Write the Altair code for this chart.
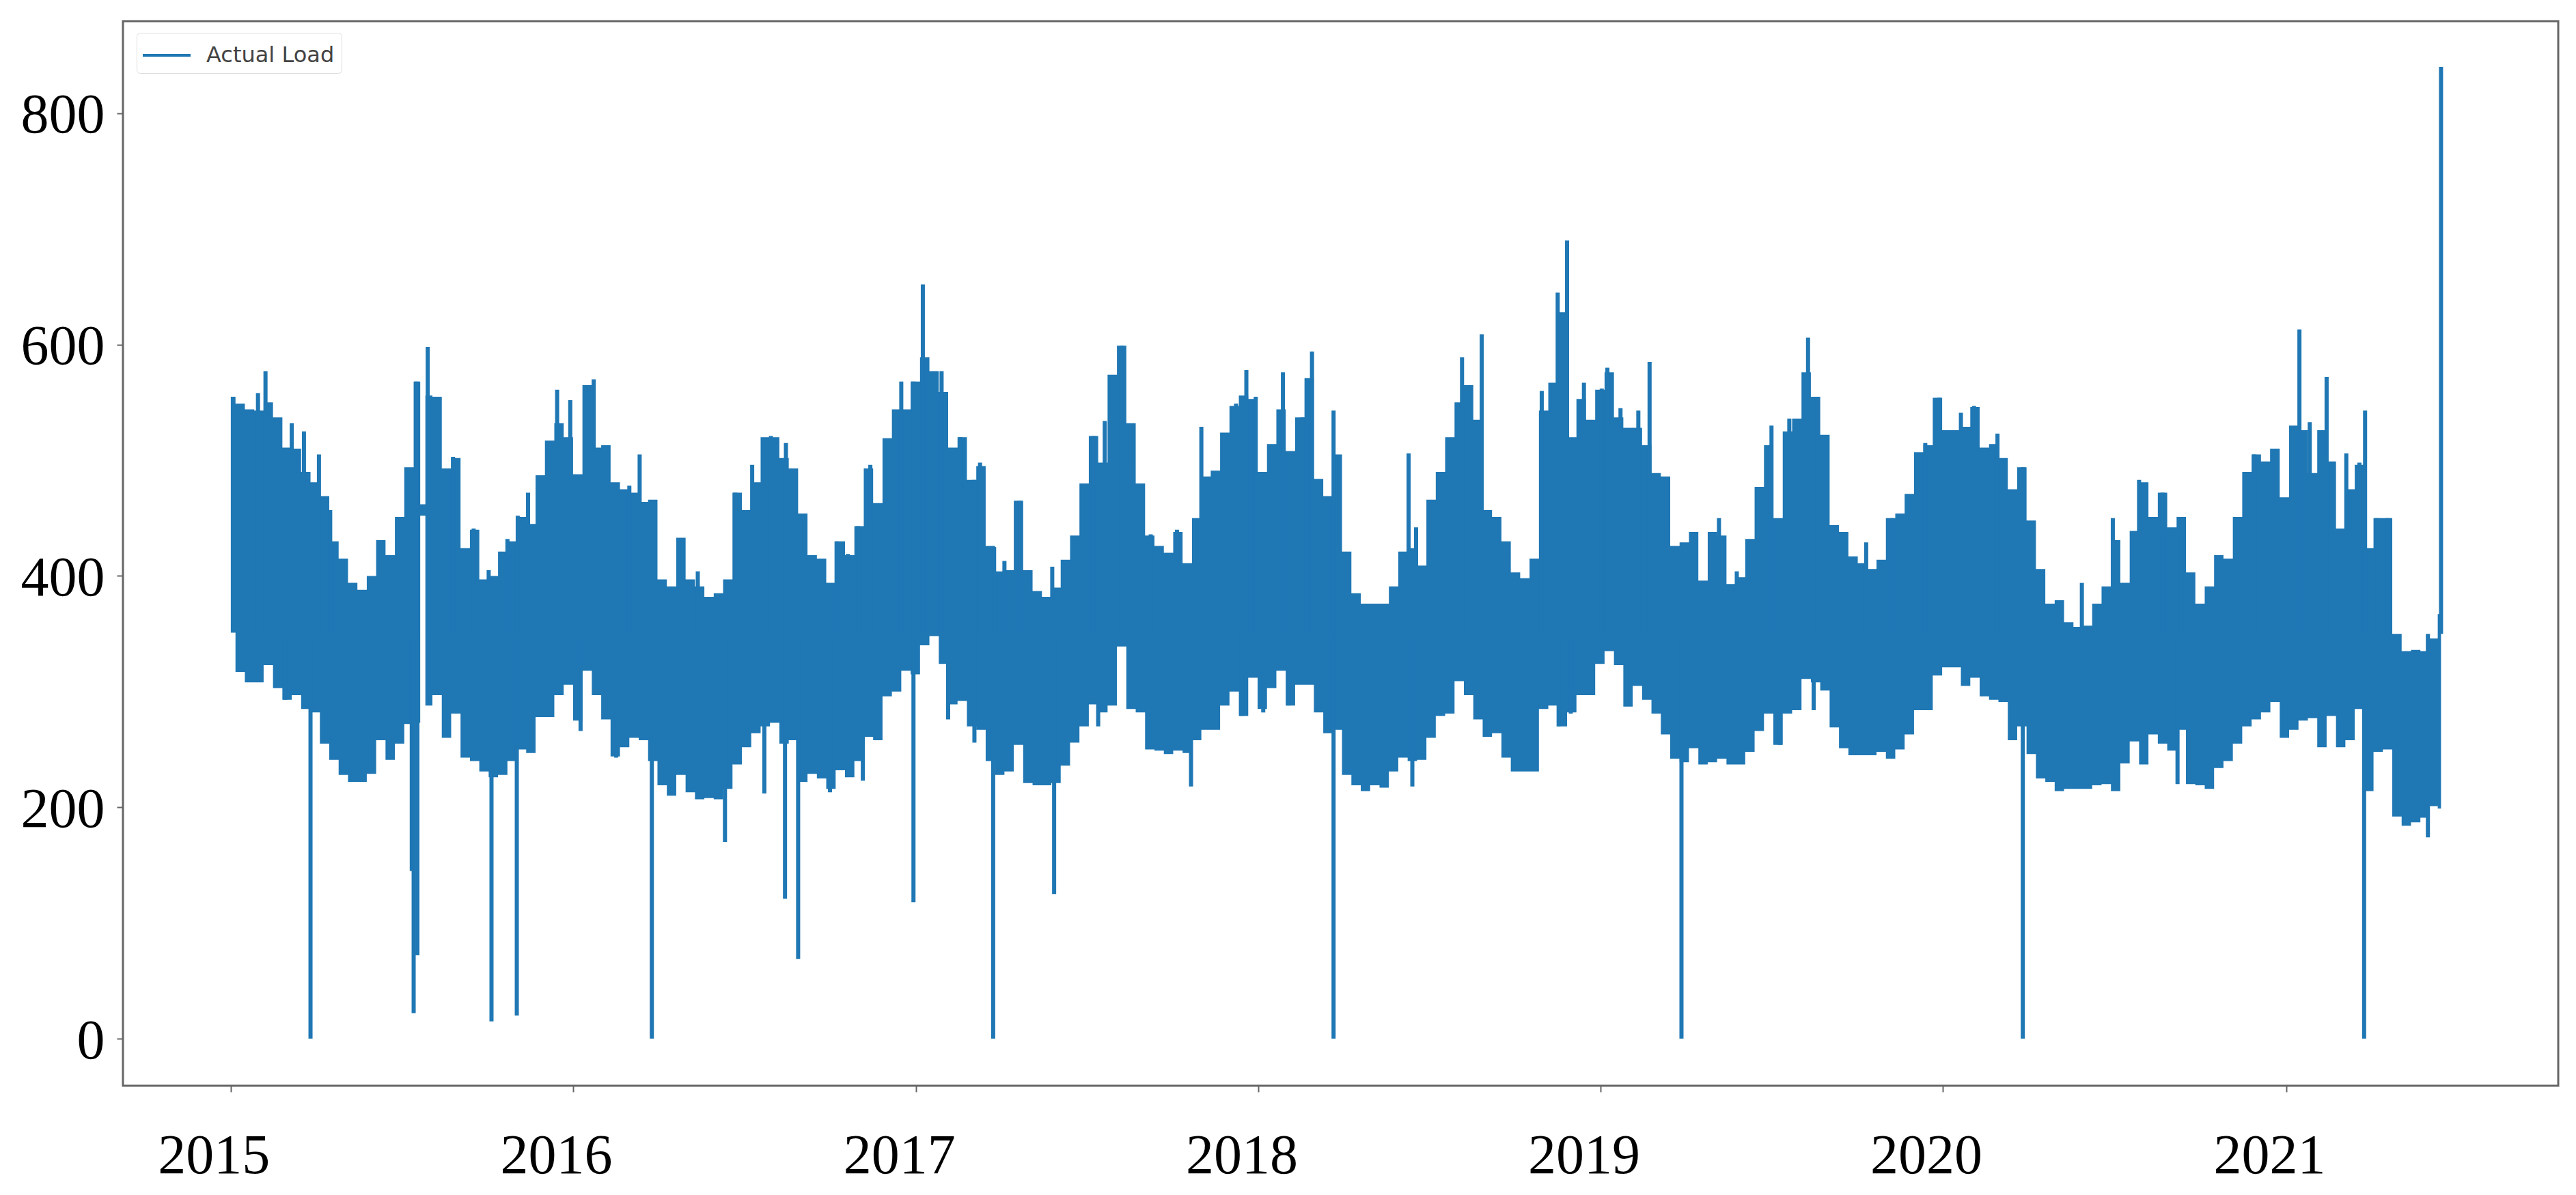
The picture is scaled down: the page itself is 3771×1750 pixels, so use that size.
import altair as alt
import pandas as pd

START = pd.Timestamp("2015-01-01")

# Envelope of the series, every 10 days from 2015-01-01
HIGH = [
    555,549,544,543,550,537,511,510,490,481,
    469,430,415,394,388,400,431,418,451,494,
    568,556,555,493,502,424,440,397,400,421,
    430,451,445,487,517,532,520,488,565,511,
    513,481,475,472,464,466,397,391,433,397,
    391,382,385,397,472,457,481,520,520,502,
    493,454,418,415,394,430,418,443,493,463,
    519,544,544,568,589,577,559,511,520,483,
    495,426,404,405,465,405,387,382,390,414,
    435,480,521,498,574,599,532,480,435,426,
    420,438,411,450,486,491,524,547,556,553,
    490,514,544,508,537,571,484,469,505,421,
    385,376,376,376,391,421,424,409,466,490,
    520,550,565,535,457,451,430,403,398,415,
    543,567,628,520,553,535,561,576,537,528,
    528,513,489,486,426,429,438,396,438,435,
    393,399,432,477,513,450,525,536,576,555,
    522,444,438,417,411,406,414,450,454,471,
    507,513,554,526,526,529,546,511,514,502,
    475,494,448,406,376,379,360,356,357,376,
    391,431,394,439,481,451,472,442,451,403,
    376,391,418,415,451,490,505,499,510,468,
    530,526,489,526,499,441,475,496,424,450,
    450,350,335,336,335,346,367,
]
LOW = [
    351,317,308,308,323,303,293,297,285,282,
    255,241,228,222,222,229,258,241,255,272,
    273,288,297,260,281,243,240,231,226,228,
    240,250,247,278,278,297,306,275,318,297,
    276,244,252,260,258,240,219,210,228,213,
    207,208,207,216,237,252,264,270,273,255,
    258,222,229,225,216,232,226,240,261,258,
    296,300,318,315,340,348,324,289,292,270,
    267,240,228,231,254,221,219,219,221,236,
    256,270,289,282,288,339,285,282,250,249,
    246,249,247,258,267,267,288,300,279,312,
    285,303,318,288,306,306,282,264,267,228,
    219,214,219,217,231,243,240,241,260,279,
    281,309,297,276,261,264,243,231,231,231,
    285,288,270,282,297,297,324,335,323,287,
    305,293,281,263,242,239,251,237,239,242,
    237,237,248,266,281,254,281,284,311,308,
    301,269,251,245,245,245,248,242,250,263,
    284,284,314,321,321,305,312,296,293,291,
    258,270,246,225,222,214,216,216,216,219,
    220,214,238,257,237,263,255,249,267,220,
    219,216,234,240,255,270,276,282,291,260,
    267,275,277,252,279,252,258,285,214,248,
    250,192,184,187,191,201,199,
]
ENVELOPE_DAYS = list(range(0, 2360, 10)) + [2357]

# The short break in the data in mid 2015
GAP_DAYS = [204, 205]
GAP_HIGH = [462, 462]
GAP_LOW = [452, 452]

# Downward outliers: day offset, value
DIP_DAYS = [85, 58, 193, 195, 199, 278, 305, 373, 411, 449, 527, 569, 591, 605, 639, 674, 728, 765, 793, 813, 878, 925, 1024, 1078, 1101, 1128, 1176, 1260, 1416, 1429, 1547, 1652, 1688, 1911, 2076, 2275, 2343]
DIP_VALS = [0, 293, 145, 22, 72, 15, 20, 266, 243, 0, 170, 212, 121, 69, 213, 223, 118, 276, 256, 0, 125, 270, 218, 279, 282, 288, 0, 218, 270, 281, 0, 254, 284, 0, 220, 0, 174]

# Upward outliers: day offset, value
PEAK_DAYS = [29, 37, 65, 78, 94, 106, 198, 210, 237, 259, 275, 295, 306, 317, 348, 362, 383, 387, 425, 436, 498, 538, 556, 576, 592, 646, 658, 669, 682, 715, 728, 738, 758, 778, 793, 799, 814, 825, 841, 876, 920, 932, 950, 981, 1009, 1035, 1072, 1083, 1093, 1122, 1143, 1153, 1176, 1256, 1264, 1313, 1334, 1398, 1415, 1425, 1443, 1462, 1468, 1482, 1501, 1513, 1587, 1606, 1643, 1662, 1682, 1692, 1744, 1772, 1807, 1822, 1845, 1859, 1884, 1911, 1974, 1988, 2007, 2035, 2060, 2080, 2158, 2177, 2206, 2217, 2235, 2256, 2270, 2276, 2289, 2300, 2357]
PEAK_VALS = [558, 577, 532, 525, 505, 457, 568, 598, 503, 441, 405, 432, 452, 472, 561, 552, 565, 570, 478, 505, 404, 472, 496, 521, 515, 430, 419, 443, 496, 568, 568, 652, 577, 520, 483, 498, 425, 413, 465, 408, 521, 534, 599, 436, 440, 529, 549, 578, 555, 576, 537, 594, 543, 506, 442, 589, 609, 560, 645, 690, 567, 562, 580, 545, 543, 585, 450, 404, 530, 536, 606, 555, 429, 450, 515, 554, 541, 547, 523, 494, 394, 376, 450, 483, 472, 451, 505, 510, 613, 533, 572, 506, 498, 543, 450, 450, 840]

X_TICK_YEARS = [2015, 2016, 2017, 2018, 2019, 2020, 2021]
Y_TICKS = [0, 200, 400, 600, 800]
SERIES_NAME = "Actual Load"
BLUE = "#1f77b4"
FRAME = "#666666"


def to_date(day):
    return (START + pd.Timedelta(days=day)).strftime("%Y-%m-%d")


rows = list(zip(ENVELOPE_DAYS, HIGH, LOW)) + list(zip(GAP_DAYS, GAP_HIGH, GAP_LOW))
rows.sort(key=lambda r: r[0])
band = pd.DataFrame(
    {"date": [to_date(r[0]) for r in rows], "high": [r[1] for r in rows], "low": [r[2] for r in rows]}
)

BASE = 350
spike_days = DIP_DAYS + PEAK_DAYS
spike_vals = DIP_VALS + PEAK_VALS
spikes = pd.DataFrame(
    {
        "date": [to_date(d) for d in spike_days],
        "tip": spike_vals,
        "base": [BASE] * len(spike_days),
        "series": [SERIES_NAME] * len(spike_days),
    }
)

x_scale = alt.Scale(domain=[to_date(-115), to_date(2482)], nice=False)
y_scale = alt.Scale(domain=[-40.7, 879.6], nice=False, zero=False)

x_axis = alt.Axis(
    title=None,
    values=[alt.DateTime(year=y, month=1, date=1) for y in X_TICK_YEARS],
    format="%Y",
    grid=False,
    domain=False,
    tickSize=9,
    tickWidth=2,
    tickColor=FRAME,
    labelFont="Liberation Serif",
    labelFontSize=82,
    labelColor="#000000",
    labelPadding=53,
    labelOffset=-25,
    labelFlush=False,
    labelOverlap=False,
)
y_axis = alt.Axis(
    title=None,
    values=Y_TICKS,
    grid=False,
    domain=False,
    tickSize=9,
    tickWidth=2,
    tickColor=FRAME,
    labelFont="Liberation Serif",
    labelFontSize=82,
    labelColor="#000000",
    labelPadding=18,
    labelOffset=3,
    minExtent=160,
    maxExtent=160,
)

area = (
    alt.Chart(band)
    .mark_area(interpolate="step", color=BLUE, opacity=1)
    .encode(
        x=alt.X("date:T", scale=x_scale, axis=x_axis),
        y=alt.Y("high:Q", scale=y_scale, axis=y_axis),
        y2="low:Q",
    )
)

rules = (
    alt.Chart(spikes)
    .mark_rule(strokeWidth=6, opacity=1)
    .encode(
        x=alt.X("date:T", scale=x_scale, axis=x_axis),
        y=alt.Y("tip:Q", scale=y_scale, axis=y_axis),
        y2="base:Q",
        color=alt.Color(
            "series:N",
            scale=alt.Scale(domain=[SERIES_NAME], range=[BLUE]),
            legend=alt.Legend(
                title=None,
                orient="none",
                legendX=20,
                legendY=17,
                symbolType="M-1.143,0L2.19,0",
                symbolSize=1764,
                symbolStrokeWidth=4,
                labelFont="DejaVu Sans",
                labelFontSize=32,
                labelColor="#444444",
                labelOffset=46,
                labelLimit=400,
                fillColor="#ffffff",
                strokeColor="#dddddd",
                cornerRadius=5,
                padding=10,
            ),
        ),
    )
)

chart = (
    alt.layer(area, rules)
    .properties(
        width=3565,
        height=1559,
        padding={"left": 12, "top": 23, "right": 5, "bottom": 5},
        view=alt.ViewBackground(stroke=FRAME, strokeWidth=3),
    )
    .configure(background="#ffffff")
)

chart.save("out.html", embed_options={"renderer": "svg", "actions": False})
